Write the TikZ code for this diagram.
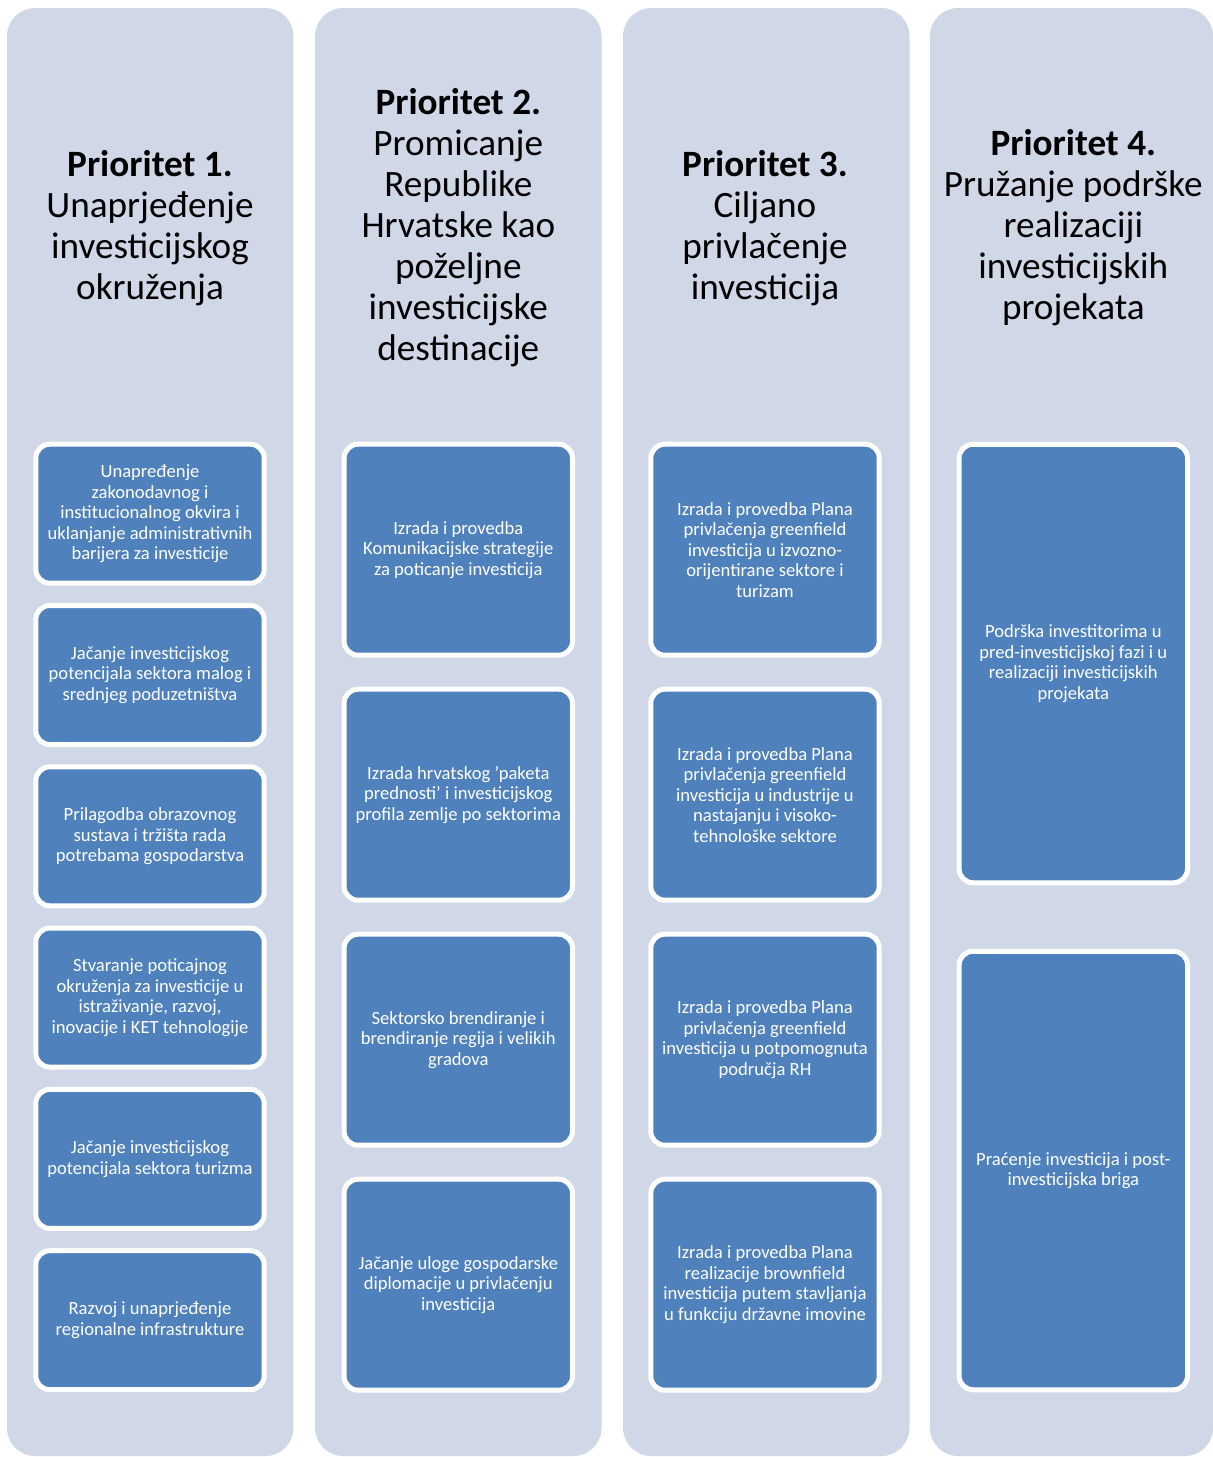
\documentclass[tikz,border=0pt]{standalone}
\usepackage{fontspec}
\setmainfont{Carlito}
\usepackage{tikz}
\usetikzlibrary{positioning}

\definecolor{lanebg}{HTML}{D0D8E8}
\definecolor{taskblue}{HTML}{4F81BD}

\begin{document}
\begin{tikzpicture}[
        x=0.5pt, y=-0.5pt,
        lane/.style={fill=lanebg, rounded corners=14pt, minimum width=143.2pt,
            minimum height=724pt, inner sep=0pt},
        head/.style={align=center, text=black, font=\fontsize{18.6}{20.5}\selectfont},
        task/.style={fill=taskblue, draw=white, line width=2.5pt, rounded corners=7pt,
            text=white, align=center, inner sep=0pt, outer sep=0pt,
            minimum width=114.2pt, font=\fontsize{9.3}{10.25}\selectfont}
    ]
    \useasboundingbox (0,0) rectangle (1213,1457);
    \foreach \c/\x/\w in {1/150.2/143.2, 2/458.3/143.2, 3/766.3/143.2, 4/1071.5/141.5} {
        \node [lane, minimum width=\w pt] (lane\c) at (\x,732) {};
    }
    % naslovi
    \node [head] (head1) at (150,228) {\bfseries Prioritet 1.\\Unaprjeđenje\\investicijskog\\okruženja};
    \node [head] (head2) at (458.3,228) {\bfseries Prioritet 2.\\Promicanje\\Republike\\Hrvatske kao\\poželjne\\investicijske\\destinacije};
    \node [head] (head3) at (765,228) {\bfseries Prioritet 3.\\Ciljano\\privlačenje\\investicija};
    \node [head] (head4) at (1073.3,228) {\bfseries Prioritet 4.\\Pružanje podrške\\realizaciji\\investicijskih\\projekata};
    % prioritet 1
    \begin{scope}[task/.append style={minimum height=69.5pt}, node distance=11.15pt]
        \node [task] (p1a) at (150,513.7) {Unapređenje\\zakonodavnog i\\institucionalnog okvira i\\uklanjanje administrativnih\\barijera za investicije};
        \node [task, below=of p1a] (p1b) {Jačanje investicijskog\\potencijala sektora malog i\\srednjeg poduzetništva};
        \node [task, below=of p1b] (p1c) {Prilagodba obrazovnog\\sustava i tržišta rada\\potrebama gospodarstva};
        \node [task, below=of p1c] (p1d) {Stvaranje poticajnog\\okruženja za investicije u\\istraživanje, razvoj,\\inovacije i KET tehnologije};
        \node [task, below=of p1d] (p1e) {Jačanje investicijskog\\potencijala sektora turizma};
        \node [task, below=of p1e] (p1f) {Razvoj i unaprjeđenje\\regionalne infrastrukture};
    \end{scope}
    % prioritet 2
    \begin{scope}[task/.append style={minimum height=105.5pt}, node distance=17pt]
        \node [task] (p2a) at (458.3,549.7) {Izrada i provedba\\Komunikacijske strategije\\za poticanje investicija};
        \node [task, below=of p2a] (p2b) {Izrada hrvatskog 'paketa\\prednosti' i investicijskog\\profila zemlje po sektorima};
        \node [task, below=of p2b] (p2c) {Sektorsko brendiranje i\\brendiranje regija i velikih\\gradova};
        \node [task, below=of p2c] (p2d) {Jačanje uloge gospodarske\\diplomacije u privlačenju\\investicija};
    \end{scope}
    % prioritet 3
    \begin{scope}[task/.append style={minimum height=105.5pt}, node distance=17pt]
        \node [task] (p3a) at (765,549.7) {Izrada i provedba Plana\\privlačenja greenfield\\investicija u izvozno-\\orijentirane sektore i\\turizam};
        \node [task, below=of p3a] (p3b) {Izrada i provedba Plana\\privlačenja greenfield\\investicija u industrije u\\nastajanju i visoko-\\tehnološke sektore};
        \node [task, below=of p3b] (p3c) {Izrada i provedba Plana\\privlačenja greenfield\\investicija u potpomognuta\\područja RH};
        \node [task, below=of p3c] (p3d) {Izrada i provedba Plana\\realizacije brownfield\\investicija putem stavljanja\\u funkciju državne imovine};
    \end{scope}
    % prioritet 4
    \begin{scope}[task/.append style={minimum height=219.25pt}, node distance=34.25pt]
        \node [task] (p4a) at (1073.3,663.5) {Podrška investitorima u\\pred-investicijskoj fazi i u\\realizaciji investicijskih\\projekata};
        \node [task, below=of p4a] (p4b) {Praćenje investicija i post-\\investicijska briga};
    \end{scope}
\end{tikzpicture}
\end{document}
